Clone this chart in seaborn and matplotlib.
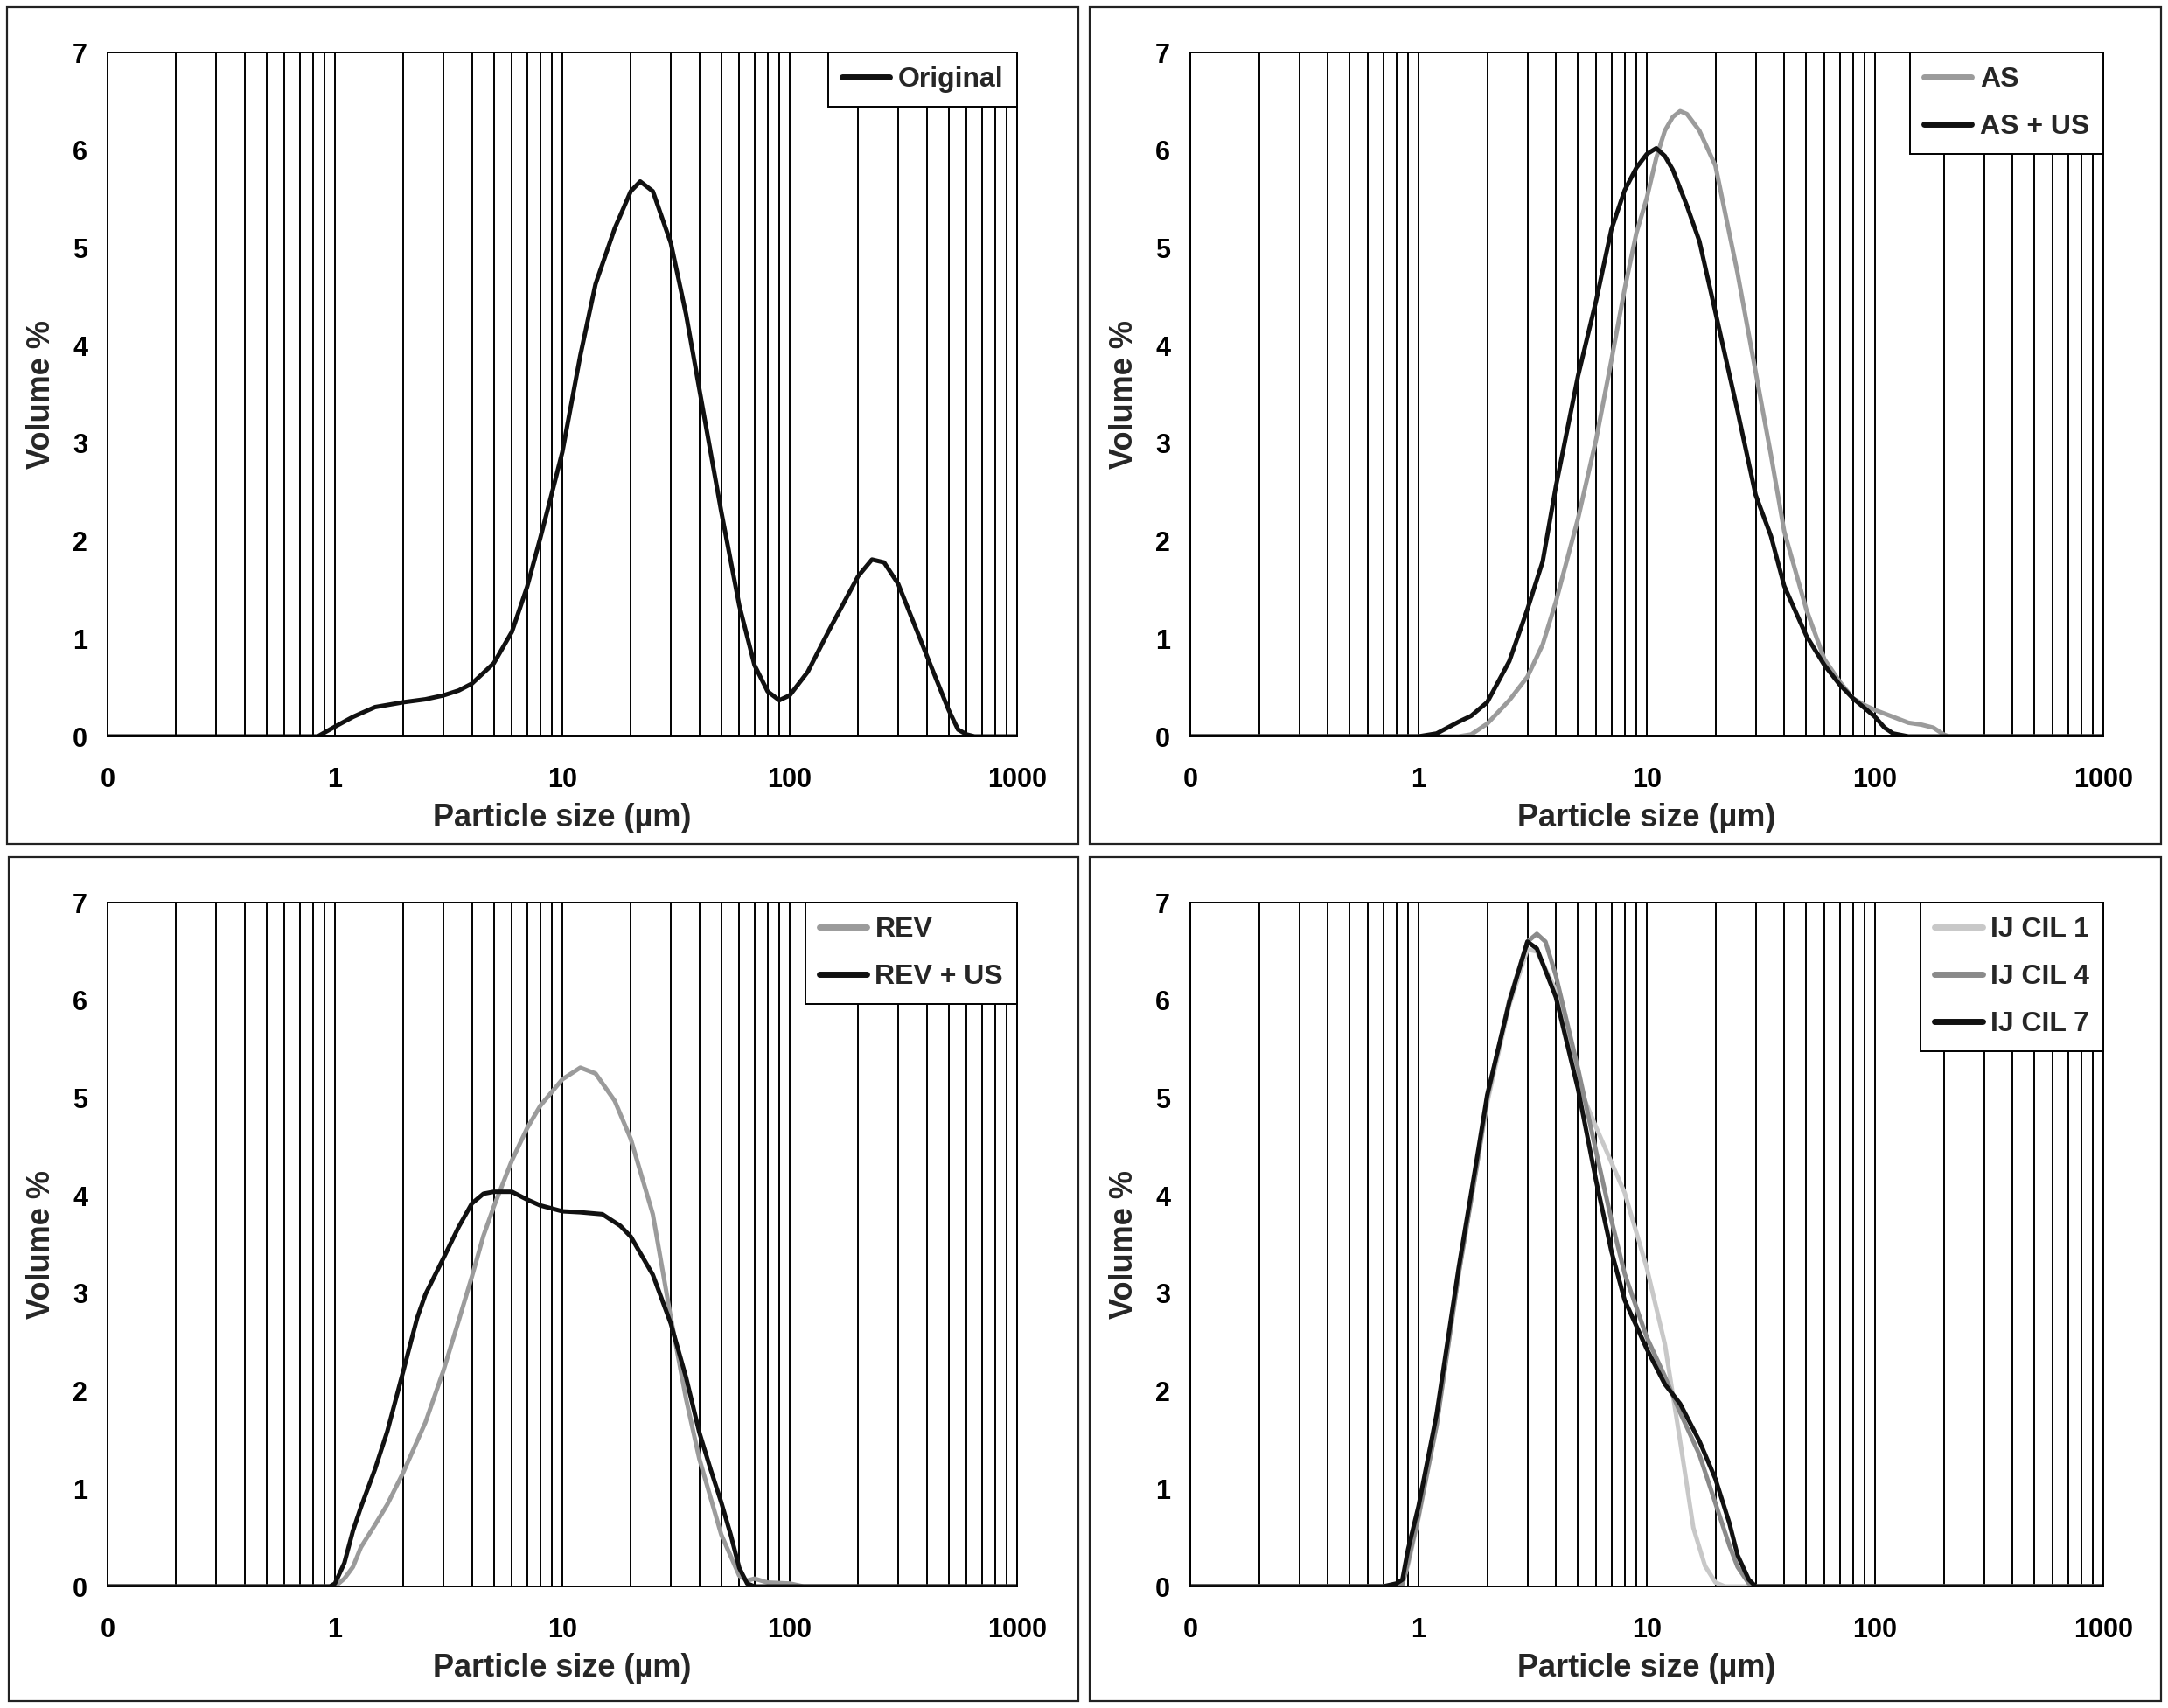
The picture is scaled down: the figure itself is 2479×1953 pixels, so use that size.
import numpy as np
import pandas as pd
import matplotlib
matplotlib.use('Agg')
import matplotlib.pyplot as plt
import matplotlib.ticker as mticker
from matplotlib.patches import Rectangle
import seaborn as sns

sns.set_style('white')
plt.rcParams['font.family'] = ['Liberation Sans', 'DejaVu Sans']
plt.rcParams['font.weight'] = 'bold'
plt.rcParams['axes.labelweight'] = 'bold'

# ---- data (particle size in um, volume %) ----
orig_x = [0.1, 0.8, 0.84, 0.9, 1.0, 1.2, 1.5, 2, 2.5, 3, 3.5, 4, 5, 6, 7, 8, 9, 10, 12, 14, 17, 20, 22,
          25, 30, 35, 40, 50, 60, 70, 80, 90, 100, 120, 150, 200, 230, 260, 300, 400, 500, 550, 600, 650, 1000]
orig_y = [0, 0, 0, 0.04, 0.1, 0.2, 0.3, 0.35, 0.38, 0.42, 0.47, 0.54, 0.75, 1.07, 1.53, 2.03, 2.49, 2.91,
          3.9, 4.63, 5.2, 5.58, 5.68, 5.58, 5.05, 4.32, 3.56, 2.3, 1.34, 0.73, 0.46, 0.37, 0.42, 0.66, 1.1,
          1.64, 1.81, 1.78, 1.56, 0.83, 0.27, 0.07, 0.02, 0, 0]

as_x = [0.1, 1.5, 1.7, 2, 2.5, 3, 3.5, 4, 5, 6, 7, 8, 9, 10, 11, 12, 13, 14, 15, 17, 20, 25, 30, 35, 40,
        50, 60, 70, 80, 90, 100, 120, 140, 160, 180, 200, 210, 1000]
as_y = [0, 0, 0.02, 0.13, 0.37, 0.61, 0.94, 1.38, 2.23, 3.04, 3.85, 4.58, 5.15, 5.51, 5.92, 6.2, 6.34, 6.4,
        6.37, 6.2, 5.84, 4.74, 3.73, 2.88, 2.1, 1.3, 0.79, 0.56, 0.39, 0.32, 0.27, 0.2, 0.14, 0.12, 0.09,
        0.02, 0, 0]

asus_x = [0.1, 1.0, 1.2, 1.5, 1.7, 2, 2.5, 3, 3.5, 4, 5, 6, 7, 8, 9, 10, 11, 12, 13, 15, 17, 20, 25, 30,
          35, 40, 50, 60, 70, 80, 90, 100, 110, 120, 140, 1000]
asus_y = [0, 0, 0.03, 0.15, 0.21, 0.35, 0.77, 1.3, 1.79, 2.56, 3.69, 4.46, 5.19, 5.59, 5.82, 5.96, 6.02,
          5.94, 5.8, 5.43, 5.07, 4.34, 3.33, 2.47, 2.05, 1.54, 1.03, 0.73, 0.53, 0.39, 0.29, 0.2, 0.09,
          0.03, 0, 0]

rev_x = [0.1, 1.0, 1.1, 1.2, 1.3, 1.5, 1.7, 2, 2.5, 3, 3.5, 4, 4.5, 5, 6, 7, 8, 10, 12, 14, 17, 20, 25,
         30, 35, 40, 50, 60, 65, 70, 80, 100, 115, 1000]
rev_y = [0, 0, 0.08, 0.2, 0.4, 0.63, 0.84, 1.17, 1.68, 2.21, 2.72, 3.17, 3.59, 3.89, 4.36, 4.69, 4.92,
         5.19, 5.31, 5.25, 4.97, 4.58, 3.81, 2.75, 1.92, 1.31, 0.53, 0.11, 0.06, 0.08, 0.04, 0.03, 0, 0]

revus_x = [0.1, 0.95, 1.0, 1.1, 1.2, 1.3, 1.5, 1.7, 2, 2.3, 2.5, 3, 3.5, 4, 4.5, 5, 6, 7, 8, 10, 12, 15,
           18, 20, 25, 30, 35, 40, 45, 50, 55, 60, 65, 70, 1000]
revus_y = [0, 0, 0.03, 0.24, 0.57, 0.81, 1.2, 1.59, 2.21, 2.75, 2.99, 3.36, 3.68, 3.92, 4.02, 4.04, 4.04,
           3.96, 3.9, 3.84, 3.83, 3.81, 3.69, 3.58, 3.19, 2.69, 2.14, 1.58, 1.19, 0.86, 0.53, 0.19, 0.03,
           0, 0]

cil1_x = [0.1, 0.8, 0.85, 0.9, 1.0, 1.2, 1.5, 1.8, 2, 2.5, 3, 3.3, 4, 5, 6, 7, 8, 10, 12, 14, 16, 18, 20,
          22, 1000]
cil1_y = [0, 0, 0.03, 0.22, 0.7, 1.65, 3.2, 4.3, 4.95, 5.95, 6.52, 6.5, 6.1, 5.14, 4.7, 4.34, 4.03, 3.26,
          2.48, 1.49, 0.6, 0.21, 0.04, 0, 0]

cil4_x = [0.1, 0.8, 0.85, 0.9, 1.0, 1.2, 1.5, 1.8, 2, 2.5, 3, 3.3, 3.6, 4, 5, 6, 7, 8, 10, 12, 14, 17,
          20, 23, 25, 28, 30, 1000]
cil4_y = [0, 0, 0.02, 0.25, 0.72, 1.65, 3.2, 4.3, 5.0, 6.0, 6.6, 6.68, 6.6, 6.25, 5.3, 4.45, 3.75, 3.2,
          2.55, 2.15, 1.78, 1.35, 0.85, 0.42, 0.2, 0.03, 0, 0]

cil7_x = [0.1, 0.7, 0.8, 0.85, 0.9, 1.0, 1.2, 1.5, 1.8, 2, 2.5, 3, 3.3, 4, 5, 6, 7, 8, 10, 12, 14, 17,
          20, 23, 25, 28, 30, 1000]
cil7_y = [0, 0, 0.03, 0.07, 0.38, 0.82, 1.76, 3.26, 4.37, 5.03, 5.98, 6.6, 6.53, 6.03, 5.09, 4.15, 3.43,
          2.93, 2.43, 2.07, 1.87, 1.49, 1.1, 0.65, 0.32, 0.07, 0, 0]

panels = [
    [('Original', orig_x, orig_y, '#111111')],
    [('AS', as_x, as_y, '#9b9b9b'), ('AS + US', asus_x, asus_y, '#111111')],
    [('REV', rev_x, rev_y, '#9b9b9b'), ('REV + US', revus_x, revus_y, '#111111')],
    [('IJ CIL 1', cil1_x, cil1_y, '#c8c8c8'), ('IJ CIL 4', cil4_x, cil4_y, '#8a8a8a'),
     ('IJ CIL 7', cil7_x, cil7_y, '#111111')],
]

W, H = 2479, 1953
fig = plt.figure(figsize=(W / 100, H / 100), dpi=100)

# panel frames (pixels: left, top, right, bottom)
frames = [(8, 8, 1233, 965), (1246, 8, 2471, 965), (10, 980, 1233, 1945), (1246, 980, 2471, 1945)]
# axes boxes (pixels)
axboxes = [(123, 60, 1163, 842), (1361, 60, 2405, 842), (123, 1032, 1163, 1814), (1361, 1032, 2405, 1814)]


def fmt(v, pos):
    if v < 1:
        return '0'
    return '%d' % v


for frame, box, series in zip(frames, axboxes, panels):
    l, t, r, b = frame
    fig.patches.append(Rectangle((l / W, 1 - b / H), (r - l) / W, (b - t) / H, transform=fig.transFigure,
                                 fill=False, edgecolor='#222222', linewidth=1.6))
    l, t, r, b = box
    ax = fig.add_axes([l / W, 1 - b / H, (r - l) / W, (b - t) / H])
    ax.set_xscale('log')
    for name, xs, ys, col in series:
        df = pd.DataFrame({'size': xs, 'vol': ys})
        sns.lineplot(data=df, x='size', y='vol', color=col, linewidth=3.6, label=name,
                     estimator=None, sort=False, ax=ax)
    ax.set_xlim(0.1, 1000)
    ax.set_ylim(0, 7)
    ax.xaxis.set_major_locator(mticker.FixedLocator([0.1, 1, 10, 100, 1000]))
    ax.xaxis.set_major_formatter(mticker.FuncFormatter(fmt))
    ax.xaxis.set_minor_locator(mticker.LogLocator(base=10, subs=np.arange(2, 10)))
    ax.xaxis.set_minor_formatter(mticker.NullFormatter())
    ax.set_yticks(range(8))
    ax.grid(True, which='both', axis='x', color='black', linewidth=1.4)
    ax.grid(False, axis='y')
    for s in ax.spines.values():
        s.set_color('black')
        s.set_linewidth(1.4)
    ax.tick_params(axis='x', which='major', direction='out', length=7, width=1.4, pad=18, labelsize=22,
                   colors='black')
    ax.tick_params(axis='x', which='minor', length=0)
    ax.tick_params(axis='y', direction='out', length=6.5, width=1.4, pad=10, labelsize=22, colors='black')
    ax.set_xlabel('Particle size (µm)', fontsize=26, fontweight='bold', labelpad=8)
    ax.set_ylabel('Volume %', fontsize=26, fontweight='bold', labelpad=13)
    leg = ax.legend(loc='upper right', borderaxespad=0, frameon=True, fancybox=False, framealpha=1,
                    edgecolor='black', handlelength=1.7, handletextpad=0.3, borderpad=0.5,
                    labelspacing=0.75, prop={'size': 23, 'weight': 'bold'})
    leg.get_frame().set_linewidth(1.4)
    for h in leg.get_lines():
        h.set_linewidth(5)

fig.savefig('out.png', dpi=100, facecolor='white')
